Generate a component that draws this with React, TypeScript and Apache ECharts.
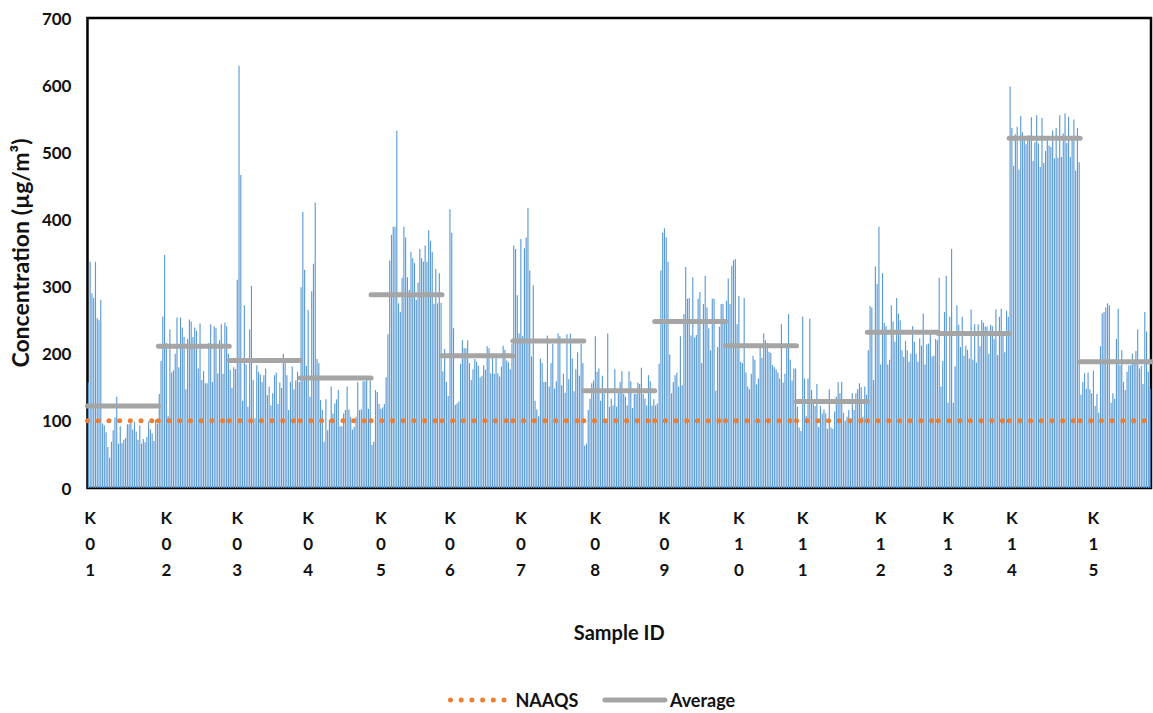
import React, { useEffect, useRef } from "react";
import * as echarts from "echarts";

const sampleIds = ["K01", "K02", "K03", "K04", "K05", "K06", "K07", "K08", "K09", "K10", "K11", "K12", "K13", "K14", "K15"];

const K01 = [157, 337, 290, 283, 337, 253, 250, 280, 96, 93, 83, 61, 45, 69, 86, 105, 136, 66, 92, 67, 72, 75, 95, 95, 97, 87, 99, 84, 72, 93, 66, 73, 68, 76, 99, 87, 81, 70, 102, 96];
const K02 = [140, 189, 255, 347, 216, 107, 236, 172, 175, 200, 254, 180, 254, 239, 225, 147, 222, 251, 248, 225, 239, 234, 178, 245, 161, 174, 156, 156, 216, 244, 158, 241, 238, 171, 220, 244, 170, 246, 241, 200];
const K03 = [176, 149, 180, 177, 310, 629, 466, 130, 272, 184, 121, 236, 301, 161, 104, 183, 173, 169, 158, 168, 178, 138, 151, 123, 141, 168, 172, 125, 157, 149, 200, 189, 168, 116, 158, 181, 147, 160, 173, 158];
const K04 = [299, 411, 325, 182, 265, 136, 293, 334, 425, 192, 186, 131, 116, 69, 132, 86, 102, 151, 111, 126, 132, 146, 92, 92, 111, 116, 151, 117, 106, 87, 91, 106, 158, 116, 117, 159, 159, 163, 118, 160];
const K05 = [64, 69, 146, 143, 125, 118, 120, 125, 165, 229, 339, 377, 389, 389, 532, 275, 262, 313, 389, 373, 314, 295, 352, 342, 335, 280, 306, 356, 342, 337, 361, 337, 384, 368, 352, 274, 326, 275, 320, 276];
const K06 = [174, 207, 158, 137, 415, 380, 238, 124, 126, 129, 185, 220, 208, 208, 220, 186, 161, 177, 192, 188, 182, 165, 167, 183, 176, 211, 208, 171, 197, 170, 195, 171, 166, 181, 212, 206, 190, 187, 177, 215];
const K07 = [361, 356, 287, 230, 371, 226, 357, 373, 417, 324, 196, 302, 130, 117, 107, 193, 186, 158, 158, 227, 151, 186, 215, 148, 159, 230, 226, 153, 170, 142, 229, 162, 230, 193, 144, 177, 202, 167, 215, 186];
const K08 = [63, 66, 116, 133, 156, 160, 226, 173, 178, 130, 167, 141, 102, 230, 121, 133, 123, 177, 121, 141, 158, 174, 140, 136, 123, 174, 159, 119, 140, 140, 157, 155, 179, 140, 133, 123, 168, 159, 123, 132];
const K09 = [123, 126, 185, 324, 380, 387, 373, 337, 199, 141, 158, 168, 172, 151, 226, 153, 259, 329, 282, 283, 227, 314, 224, 228, 282, 292, 186, 274, 316, 269, 238, 205, 282, 282, 145, 210, 240, 274, 274, 246];
const K10 = [279, 312, 274, 331, 339, 341, 244, 286, 188, 186, 283, 172, 151, 147, 170, 197, 191, 154, 163, 209, 194, 230, 220, 216, 203, 201, 183, 180, 177, 172, 163, 244, 157, 170, 212, 259, 191, 160, 178, 178];
const K11 = [121, 90, 85, 255, 163, 107, 163, 252, 146, 125, 122, 155, 91, 122, 111, 117, 111, 88, 147, 90, 88, 114, 136, 158, 141, 158, 112, 100, 106, 116, 101, 141, 116, 141, 147, 156, 150, 106, 151, 139];
const K12 = [205, 271, 269, 161, 330, 304, 389, 184, 320, 246, 241, 184, 191, 272, 248, 218, 283, 260, 250, 205, 195, 219, 205, 188, 200, 241, 218, 200, 188, 223, 212, 260, 184, 214, 215, 233, 196, 197, 222, 220];
const K13 = [313, 151, 189, 262, 316, 127, 255, 356, 127, 181, 272, 243, 210, 255, 197, 212, 206, 193, 266, 191, 244, 187, 244, 211, 250, 246, 240, 241, 200, 243, 241, 222, 266, 198, 255, 267, 230, 202, 264, 255];
const K14 = [598, 536, 480, 527, 538, 474, 554, 530, 522, 512, 525, 525, 552, 487, 515, 555, 513, 478, 551, 484, 502, 524, 510, 508, 532, 491, 536, 492, 555, 493, 528, 558, 514, 553, 493, 518, 549, 473, 536, 485];
const K15 = [139, 158, 171, 148, 172, 147, 141, 175, 122, 140, 112, 211, 260, 262, 269, 275, 272, 127, 141, 133, 222, 267, 183, 205, 158, 146, 173, 183, 183, 200, 187, 204, 236, 178, 182, 155, 262, 233, 173, 148];

const sampleValues = [K01, K02, K03, K04, K05, K06, K07, K08, K09, K10, K11, K12, K13, K14, K15];

// Average per sample (grey bars) and the NAAQS limit (orange dotted)
const averages = [122, 211, 190, 164, 288, 197, 219, 145, 248, 212, 129, 232, 230, 521, 188];
const naaqs = 100;

// Position (within each sample's run) of the category that carries the axis label
const labelOffsets = [1, 4, 4, 4, 5, 4, 4, 6, 5, 7, 3, 7, 5, 1, 7];

const yTicks = { min: 0, max: 700, interval: 100 };

const FONT = "Lato, 'Open Sans', 'Liberation Sans', sans-serif";

export default function App() {
  const ref = useRef<HTMLDivElement>(null);

  useEffect(() => {
    if (!ref.current) return;
    const chart = echarts.init(ref.current, undefined, { renderer: "svg" });

    const categories: string[] = [];
    const values: number[] = [];
    const starts: number[] = [];
    const labelIdx = new Set<number>();
    sampleValues.forEach((arr, gi) => {
      starts.push(categories.length);
      labelIdx.add(categories.length + labelOffsets[gi]);
      arr.forEach((v, i) => {
        categories.push(`${sampleIds[gi]}-${i + 1}`);
        values.push(v);
      });
    });
    const total = categories.length;

    const segSeries: any[] = [];
    sampleValues.forEach((arr, gi) => {
      const s = starts[gi];
      const e = s + arr.length;
      segSeries.push({
        type: "line",
        name: "NAAQS",
        xAxisIndex: 1,
        data: [[s, naaqs], [e, naaqs]],
        symbol: "none",
        showSymbol: false,
        z: 4,
        lineStyle: { color: "#ED7D31", width: 5, type: [0.001, 10.7], cap: "round" },
        itemStyle: { color: "#ED7D31" },
      });
    });
    sampleValues.forEach((arr, gi) => {
      const s = starts[gi];
      const e = s + arr.length;
      segSeries.push({
        type: "line",
        name: "Average",
        xAxisIndex: 1,
        data: [[s, averages[gi]], [e, averages[gi]]],
        symbol: "none",
        showSymbol: false,
        z: 5,
        lineStyle: { color: "#A5A5A5", width: 5, cap: "round" },
        itemStyle: { color: "#A5A5A5" },
      });
    });

    chart.setOption({
      animation: false,
      backgroundColor: "#ffffff",
      grid: {
        left: 86,
        right: 2,
        top: 18,
        bottom: 225,
        show: true,
        borderColor: "#000000",
        borderWidth: 2.5,
        backgroundColor: "transparent",
      },
      legend: {
        data: ["NAAQS", "Average"],
        top: 686,
        left: 443,
        itemWidth: 60,
        itemHeight: 10,
        itemGap: 24,
        lineStyle: { width: 5, cap: "round" },
        itemStyle: { color: "transparent", borderWidth: 0, opacity: 0 },
        textStyle: { fontFamily: FONT, fontWeight: "bold", fontSize: 18, color: "#111" },
      },
      xAxis: [
        {
          type: "category",
          data: categories,
          name: "Sample ID",
          nameLocation: "middle",
          nameGap: 134,
          nameTextStyle: { fontFamily: FONT, fontWeight: "bold", fontSize: 20, color: "#111" },
          axisLine: { show: false },
          axisTick: { show: false },
          axisLabel: {
            interval: (index: number) => labelIdx.has(index),
            formatter: (v: string) => v.split("-")[0].split("").join("\n"),
            fontFamily: FONT,
            fontWeight: "bold",
            fontSize: 17,
            lineHeight: 26,
            color: "#111",
            margin: 16,
            hideOverlap: false,
          },
          splitLine: { show: false },
        },
        {
          type: "value",
          min: 0,
          max: total,
          show: false,
        },
      ],
      yAxis: {
        type: "value",
        min: yTicks.min,
        max: yTicks.max,
        interval: yTicks.interval,
        name: "Concentration (µg/m³)",
        nameLocation: "middle",
        nameGap: 48,
        nameTextStyle: { fontFamily: FONT, fontWeight: "bold", fontSize: 23, color: "#111" },
        axisLine: { show: false },
        axisTick: { show: false },
        splitLine: { show: false },
        axisLabel: { fontFamily: FONT, fontWeight: "bold", fontSize: 17, color: "#111", margin: 16 },
      },
      series: [
        {
          type: "bar",
          name: "Concentration",
          data: values,
          barCategoryGap: "35%",
          itemStyle: { color: "#5B9BD5" },
          z: 2,
        },
        ...segSeries,
      ],
    });

    return () => chart.dispose();
  }, []);

  return <div ref={ref} style={{ position: "fixed", left: 0, top: 0, width: 1153, height: 713 }} />;
}
